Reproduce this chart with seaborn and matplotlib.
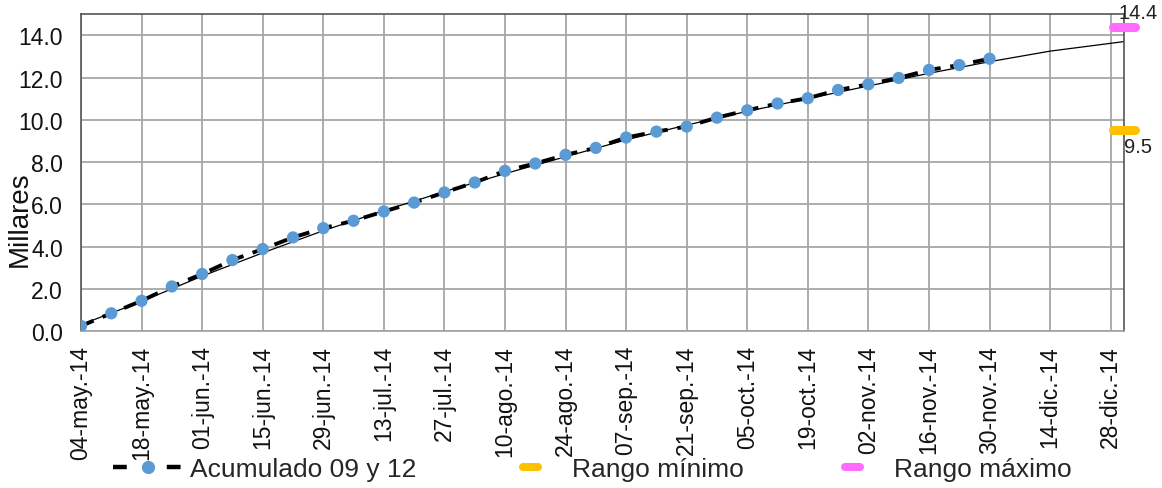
import pandas as pd
import seaborn as sns
import matplotlib.pyplot as plt
from matplotlib.lines import Line2D
from matplotlib.markers import MarkerStyle

# weekly accumulated values (thousands)
fechas = ["2014-05-04", "2014-05-11", "2014-05-18", "2014-05-25", "2014-06-01",
          "2014-06-08", "2014-06-15", "2014-06-22", "2014-06-29", "2014-07-06",
          "2014-07-13", "2014-07-20", "2014-07-27", "2014-08-03", "2014-08-10",
          "2014-08-17", "2014-08-24", "2014-08-31", "2014-09-07", "2014-09-14",
          "2014-09-21", "2014-09-28", "2014-10-05", "2014-10-12", "2014-10-19",
          "2014-10-26", "2014-11-02", "2014-11-09", "2014-11-16", "2014-11-23",
          "2014-11-30"]
acumulado = [0.24, 0.84, 1.43, 2.11, 2.70, 3.36, 3.88, 4.43, 4.87, 5.22, 5.66,
             6.08, 6.56, 7.03, 7.58, 7.93, 8.34, 8.67, 9.16, 9.44, 9.68, 10.10,
             10.45, 10.77, 11.02, 11.41, 11.68, 11.98, 12.36, 12.59, 12.89]

# thin trend line
fechas_tend = ["2014-05-04", "2014-05-18", "2014-06-01", "2014-06-15", "2014-06-29",
               "2014-07-13", "2014-07-27", "2014-08-10", "2014-08-24", "2014-09-07",
               "2014-09-21", "2014-10-05", "2014-10-19", "2014-11-02", "2014-11-16",
               "2014-11-30", "2014-12-14", "2014-12-28", "2014-12-31"]
tendencia = [0.30, 1.40, 2.60, 3.70, 4.75, 5.70, 6.60, 7.45, 8.25, 9.05,
             9.75, 10.40, 11.00, 11.60, 12.20, 12.75, 13.25, 13.62, 13.70]

fecha_rango = "2014-12-31"
rango_min = 9.5
rango_max = 14.4

tick_fechas = ["2014-05-04", "2014-05-18", "2014-06-01", "2014-06-15", "2014-06-29",
               "2014-07-13", "2014-07-27", "2014-08-10", "2014-08-24", "2014-09-07",
               "2014-09-21", "2014-10-05", "2014-10-19", "2014-11-02", "2014-11-16",
               "2014-11-30", "2014-12-14", "2014-12-28"]
tick_labels = ["04-may.-14", "18-may.-14", "01-jun.-14", "15-jun.-14", "29-jun.-14",
               "13-jul.-14", "27-jul.-14", "10-ago.-14", "24-ago.-14", "07-sep.-14",
               "21-sep.-14", "05-oct.-14", "19-oct.-14", "02-nov.-14", "16-nov.-14",
               "30-nov.-14", "14-dic.-14", "28-dic.-14"]

df = pd.DataFrame({"fecha": pd.to_datetime(fechas), "valor": acumulado})
df_t = pd.DataFrame({"fecha": pd.to_datetime(fechas_tend), "valor": tendencia})

sns.set_theme(style="whitegrid")
plt.rcParams["font.family"] = ["Liberation Sans", "DejaVu Sans"]

azul = "#5B9BD5"
naranja = "#FFC000"
rosa = "#FF6BFF"
barra = MarkerStyle("_", capstyle="round")

fig = plt.figure(figsize=(11.62, 4.89), dpi=100)
ax = fig.add_axes([0.0697, 0.321, 0.8973, 0.648])

sns.lineplot(x="fecha", y="valor", data=df_t, color="black", linewidth=0.9, ax=ax)
sns.lineplot(x="fecha", y="valor", data=df, color="black", linewidth=2.8,
             linestyle=(0, (3.5, 2.5)), ax=ax)
sns.scatterplot(x="fecha", y="valor", data=df, color=azul, s=78,
                edgecolor="none", ax=ax, zorder=3)

x_r = pd.to_datetime(fecha_rango)
ax.plot([x_r], [rango_min], marker=barra, ms=16.5, mew=6.5, color=naranja,
        clip_on=False, zorder=4)
ax.plot([x_r], [rango_max], marker=barra, ms=16.5, mew=6.5, color=rosa,
        clip_on=False, zorder=4)
ax.text(x_r, rango_max + 0.25, "14.4", fontsize=14.5, color="#222222",
        ha="left", va="bottom", clip_on=False,
        transform=ax.transData + plt.matplotlib.transforms.ScaledTranslation(-5 / 100, 0, fig.dpi_scale_trans))
ax.text(x_r, rango_min - 0.3, "9.5", fontsize=14.5, color="#222222",
        ha="left", va="top", clip_on=False)

ax.set_xlim(pd.to_datetime("2014-05-04"), pd.to_datetime("2014-12-31"))
ax.set_ylim(0, 15)
ax.set_yticks([0, 2, 4, 6, 8, 10, 12, 14])
ax.set_yticklabels([f"{v:.1f}" for v in [0, 2, 4, 6, 8, 10, 12, 14]])
ax.set_xticks(pd.to_datetime(tick_fechas))
ax.set_xticklabels(tick_labels, rotation=90)
ax.tick_params(axis="x", labelsize=16.5, colors="#999999", labelcolor="#111111",
               length=6, width=1.2, direction="out", pad=4)
ax.tick_params(axis="y", labelsize=16.5, colors="#999999", labelcolor="#111111",
               length=4, width=1.2, direction="out", pad=9)

ax.grid(True, color="#A6A6A6", linewidth=1.3)
for s in ["left", "top", "right"]:
    ax.spines[s].set_color("#555555")
    ax.spines[s].set_linewidth(1.2)
ax.spines["bottom"].set_color("#A6A6A6")
ax.spines["bottom"].set_linewidth(1.3)

ax.set_xlabel("")
ax.set_ylabel("")
fig.text(20 / 1162, 1 - 219 / 489, "Millares", rotation=90, fontsize=20,
         ha="center", va="center", color="#111111")

# legend: three entries placed along the bottom
entradas = [
    (Line2D([], [], color="black", lw=3.2, ls=(0, (3.1, 9)), marker="o",
            ms=8.5, mfc=azul, mec=azul), "Acumulado 09 y 12", 113),
    (Line2D([], [], ls="none", marker=barra, ms=10.8, mew=5.8, color=naranja),
     "Rango mínimo", 495),
    (Line2D([], [], ls="none", marker=barra, ms=10.8, mew=5.8, color=rosa),
     "Rango máximo", 817),
]
for h, lab, x0 in entradas:
    fig.legend([h], [lab], loc="center left", bbox_to_anchor=(x0 / 1162, 1 - 470 / 489),
               frameon=False, fontsize=19, handlelength=2.65, handletextpad=0.27,
               borderpad=0, borderaxespad=0)

fig.savefig("out.png", dpi=100)
plt.close()
